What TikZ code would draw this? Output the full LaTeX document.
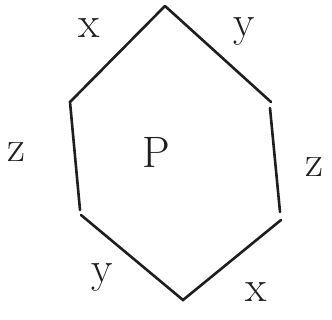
\documentclass[tikz,border=0pt]{standalone}
\usepackage{xcolor}
\usepackage{tikz}
\definecolor{inkcol}{RGB}{30,30,30}

\begin{document}
\begin{tikzpicture}[x=1pt,y=-1pt]
\tikzset{edge/.style={inkcol,line width=2.6pt,line cap=round},
  lab/.style={inkcol,font=\fontsize{44}{48}\selectfont,inner sep=0pt}}
\useasboundingbox (0,0) rectangle (332,320);
% corners of the hexagon
\coordinate (top) at (165,6);
\coordinate (ul) at (70,102);
\coordinate (ll) at (80,210);
\coordinate (llb) at (81,215);
\coordinate (bot) at (183,300);
\coordinate (lrb) at (281,220);
\coordinate (lr) at (280,212);
\coordinate (ur) at (270,108);
\coordinate (urt) at (271,102);
\draw[edge] (top) -- (ul) -- (ll);
\draw[edge] (llb) -- (bot) -- (lrb);
\draw[edge] (lr) -- (ur);
\draw[edge] (urt) -- (top);
% side labels
\node[lab] (xa) at (89,28) {x};
\node[lab] (ya) at (244,32) {y};
\node[lab] (za) at (16,152) {z};
\node[lab] (p) at (156,152) {P};
\node[lab] (zb) at (314,167) {z};
\node[lab] (yb) at (102,278) {y};
\node[lab] (xb) at (256,292) {x};
\end{tikzpicture}
\end{document}
